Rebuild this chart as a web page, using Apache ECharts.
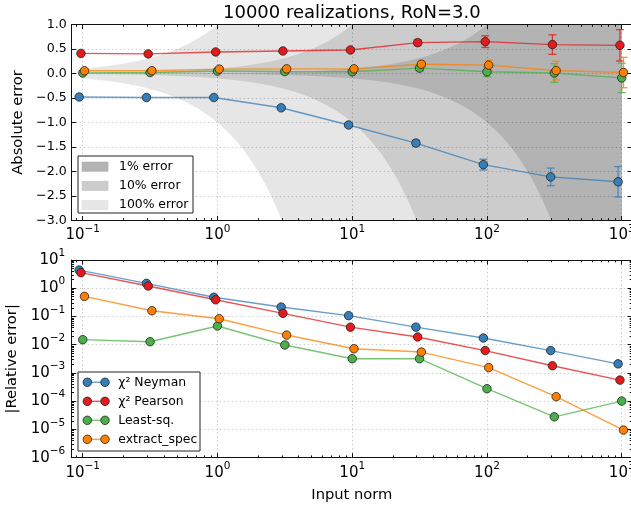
<!DOCTYPE html>
<html>
<head>
<meta charset="utf-8">
<script src="https://cdn.jsdelivr.net/npm/echarts@6/dist/echarts.min.js"></script>
<style>
  html, body { margin: 0; padding: 0; background: #fff; }
  #chart { width: 631px; height: 509px; }
</style>
</head>
<body>
<div id="chart"></div>
<script>
// ---- data -----------------------------------------------------------------
// Input norms at which each fitting method was evaluated (methods are staggered
// slightly along x so the markers do not hide each other).
const xNeyman  = [0.094, 0.297, 0.94, 2.97, 9.4, 29.7, 94, 297, 940];
const xPearson = [0.097, 0.306, 0.97, 3.06, 9.7, 30.6, 97, 306, 970];
const xLsq     = [0.1, 0.316, 1.0, 3.16, 10, 31.6, 100, 316, 1000];
const xExtract = [0.103, 0.326, 1.03, 3.26, 10.3, 32.6, 103, 326, 1030];

// Mean absolute error of the recovered norm
const absNeyman  = [-0.48, -0.49, -0.49, -0.70, -1.05, -1.42, -1.86, -2.11, -2.21];
const absPearson = [0.41, 0.40, 0.44, 0.46, 0.48, 0.63, 0.65, 0.59, 0.575];
const absLsq     = [0.01, 0.02, 0.05, 0.04, 0.035, 0.11, 0.035, 0.01, -0.09];
const absExtract = [0.055, 0.057, 0.09, 0.095, 0.095, 0.19, 0.17, 0.06, 0.02];

// Uncertainty of the mean absolute error
const errNeyman  = [0.02, 0.02, 0.025, 0.03, 0.035, 0.06, 0.11, 0.18, 0.31];
const errPearson = [0.02, 0.02, 0.025, 0.03, 0.035, 0.06, 0.12, 0.20, 0.32];
const errLsq     = [0.02, 0.02, 0.025, 0.03, 0.035, 0.06, 0.10, 0.19, 0.30];
const errExtract = [0.02, 0.02, 0.025, 0.03, 0.035, 0.06, 0.10, 0.19, 0.31];

// |Relative error| of the recovered norm
const relNeyman  = [4.4, 1.49, 0.48, 0.216, 0.107, 0.042, 0.0173, 0.0062, 0.0021];
const relPearson = [3.56, 1.2, 0.39, 0.129, 0.042, 0.0188, 0.0062, 0.0018, 0.00056];
const relLsq     = [0.0151, 0.0128, 0.046, 0.0098, 0.0032, 0.0032, 0.000277, 0.000028, 0.000101];
const relExtract = [0.516, 0.16, 0.0835, 0.022, 0.0072, 0.0055, 0.00155, 0.000145, 0.0000095];

const methodNames  = ['χ² Neyman', 'χ² Pearson', 'Least-sq.', 'extract_spec'];
const methodColors = ['#377eb8', '#e41a1c', '#4daf4a', '#ff7f00'];

// Shaded regions: |absolute error| below a given percentage of the input norm
const bandPercents = [100, 10, 1];
const bandLabels   = ['100% error', '10% error', '1% error'];
const bandColors   = ['#e6e6e6', '#cccccc', '#b3b3b3'];
const bandNormRange = [0.1, 1000];

// Axis ranges and tick labels
const xRange = [0.0828, 1192];
const xMajorTicks = [0.1, 1, 10, 100, 1000];
const yAbsRange = [-3, 1];
const yAbsStep = 0.5;
const yRelRange = [1e-6, 10];
const yRelMajorTicks = [1e-6, 1e-5, 1e-4, 1e-3, 1e-2, 1e-1, 1, 10];

const titleText = '10000 realizations, RoN=3.0';

// ---- helpers --------------------------------------------------------------
const FONT = 'DejaVu Sans';
const zip = (xs, ys) => xs.map((x, i) => [x, ys[i]]);
const zip3 = (xs, ys, es) => xs.map((x, i) => [x, ys[i], es[i]]);

function minorLogTicks(lo, hi) {
  const out = [];
  for (let e = -8; e <= 4; e++) {
    for (let k = 2; k <= 9; k++) {
      const v = +(k * Math.pow(10, e)).toPrecision(6);
      if (v > lo && v < hi) out.push(v);
    }
  }
  return out;
}
const xMinorTicks = minorLogTicks(xRange[0], xRange[1]);
const yRelMinorTicks = minorLogTicks(yRelRange[0], yRelRange[1]);

function powLabel(v) {
  const e = Math.round(Math.log10(v));
  return '{b|10}{s|' + String(e).replace('-', '\u2212') + '}';
}
const powRich = {
  b: { fontFamily: FONT, fontSize: 15, lineHeight: 15, color: '#000', verticalAlign: 'bottom' },
  s: { fontFamily: FONT, fontSize: 10.5, lineHeight: 10.5, color: '#000', verticalAlign: 'bottom', padding: [0, 0, 8.5, 0] }
};

const gridLine = { show: true, lineStyle: { color: 'rgba(0,0,0,0.2)', width: 1, type: [1.5, 2.5] } };
const spine = { show: true, onZero: false, lineStyle: { color: '#111', width: 1 } };
const noLine = { show: false, onZero: false };
const MAJOR = 4.5, MINOR = 2.3;

function tickStyle(len, values) {
  const t = { show: true, inside: true, length: len, lineStyle: { color: '#111', width: 1 } };
  if (values) t.customValues = values;
  return t;
}

// log x axes for a grid: main (labels + grid), minor ticks, top spine major, top minor
function xAxesFor(gridIndex, withName) {
  const base = { type: 'log', logBase: 10, gridIndex, min: xRange[0], max: xRange[1], z: 2 };
  return [
    Object.assign({}, base, {
      position: 'bottom', axisLine: spine, axisTick: tickStyle(MAJOR, xMajorTicks),
      axisLabel: { customValues: xMajorTicks, formatter: powLabel, rich: powRich, margin: 7.5 },
      splitLine: gridLine,
      name: withName ? 'Input norm' : '', nameLocation: 'middle', nameGap: 30,
      nameTextStyle: { fontFamily: FONT, fontSize: 14.7, color: '#000' }
    }),
    Object.assign({}, base, {
      position: 'bottom', axisLine: noLine, axisTick: tickStyle(MINOR, xMinorTicks),
      axisLabel: { show: false }, splitLine: { show: false }
    }),
    Object.assign({}, base, {
      position: 'top', axisLine: spine, axisTick: tickStyle(MAJOR, xMajorTicks),
      axisLabel: { show: false }, splitLine: { show: false }
    }),
    Object.assign({}, base, {
      position: 'top', axisLine: noLine, axisTick: tickStyle(MINOR, xMinorTicks),
      axisLabel: { show: false }, splitLine: { show: false }
    })
  ];
}

const xAxes = xAxesFor(0, false).concat(xAxesFor(1, true));

const yAxes = [
  // top panel, linear
  {
    type: 'value', gridIndex: 0, position: 'left', min: yAbsRange[0], max: yAbsRange[1], interval: yAbsStep, z: 2,
    axisLine: spine, axisTick: tickStyle(MAJOR),
    axisLabel: { fontFamily: FONT, fontSize: 12.6, color: '#000', margin: 5,
      formatter: v => v.toFixed(1).replace('-', '\u2212') },
    splitLine: gridLine,
    name: 'Absolute error', nameLocation: 'middle', nameGap: 41,
    nameTextStyle: { fontFamily: FONT, fontSize: 14.7, color: '#000' }
  },
  {
    type: 'value', gridIndex: 0, position: 'right', min: yAbsRange[0], max: yAbsRange[1], interval: yAbsStep, z: 2,
    axisLine: spine, axisTick: tickStyle(MAJOR), axisLabel: { show: false }, splitLine: { show: false }
  },
  // bottom panel, log
  {
    type: 'log', logBase: 10, gridIndex: 1, position: 'left', min: yRelRange[0], max: yRelRange[1], z: 2,
    axisLine: spine, axisTick: tickStyle(MAJOR, yRelMajorTicks),
    axisLabel: { customValues: yRelMajorTicks, formatter: powLabel, rich: powRich, margin: 6.5 },
    splitLine: gridLine,
    name: '|Relative error|', nameLocation: 'middle', nameGap: 46,
    nameTextStyle: { fontFamily: FONT, fontSize: 14.7, color: '#000' }
  },
  {
    type: 'log', logBase: 10, gridIndex: 1, position: 'left', min: yRelRange[0], max: yRelRange[1], z: 2,
    axisLine: noLine, axisTick: tickStyle(MINOR, yRelMinorTicks), axisLabel: { show: false }, splitLine: { show: false }
  },
  {
    type: 'log', logBase: 10, gridIndex: 1, position: 'right', min: yRelRange[0], max: yRelRange[1], z: 2,
    axisLine: spine, axisTick: tickStyle(MAJOR, yRelMajorTicks), axisLabel: { show: false }, splitLine: { show: false }
  },
  {
    type: 'log', logBase: 10, gridIndex: 1, position: 'right', min: yRelRange[0], max: yRelRange[1], z: 2,
    axisLine: noLine, axisTick: tickStyle(MINOR, yRelMinorTicks), axisLabel: { show: false }, splitLine: { show: false }
  }
];

// ---- series ---------------------------------------------------------------
function renderBand(params, api) {
  const frac = api.value(0) / 100;
  const lo = Math.log10(bandNormRange[0]), hi = Math.log10(bandNormRange[1]);
  const n = 500, upper = [], lower = [];
  for (let i = 0; i <= n; i++) {
    const x = Math.pow(10, lo + (hi - lo) * i / n);
    upper.push(api.coord([x, Math.min(frac * x, yAbsRange[1])]));
    lower.push(api.coord([x, Math.max(-frac * x, yAbsRange[0])]));
  }
  return {
    type: 'polygon',
    shape: { points: upper.concat(lower.reverse()) },
    style: { fill: api.visual('color') }
  };
}

function renderErrorBar(params, api) {
  const x = api.value(0), y = api.value(1), e = api.value(2);
  const a = api.coord([x, y + e]), b = api.coord([x, y - e]);
  const cap = 4;
  const style = { stroke: api.visual('color'), lineWidth: 1.3, opacity: 0.8 };
  return {
    type: 'group',
    children: [
      { type: 'line', shape: { x1: a[0], y1: a[1], x2: b[0], y2: b[1] }, style },
      { type: 'line', shape: { x1: a[0] - cap, y1: a[1], x2: a[0] + cap, y2: a[1] }, style },
      { type: 'line', shape: { x1: b[0] - cap, y1: b[1], x2: b[0] + cap, y2: b[1] }, style }
    ]
  };
}

const xs = [xNeyman, xPearson, xLsq, xExtract];
const absVals = [absNeyman, absPearson, absLsq, absExtract];
const errVals = [errNeyman, errPearson, errLsq, errExtract];
const relVals = [relNeyman, relPearson, relLsq, relExtract];

function lineSeries(name, color, data, xIdx, yIdx) {
  return {
    name, type: 'line', xAxisIndex: xIdx, yAxisIndex: yIdx, data, z: 4,
    symbol: 'circle', symbolSize: 8.5, showAllSymbol: true,
    lineStyle: { color, width: 1.4, opacity: 0.75 },
    itemStyle: { color, borderColor: '#222', borderWidth: 0.8 },
    emphasis: { disabled: true }, animation: false
  };
}

const series = [
  {
    type: 'custom', name: 'bands', xAxisIndex: 0, yAxisIndex: 0, z: 1, silent: true,
    renderItem: renderBand, animation: false,
    data: bandPercents.map((p, i) => ({ value: [p, 0], itemStyle: { color: bandColors[i] } }))
  }
];
methodNames.forEach((name, i) => {
  series.push({
    type: 'custom', name: name + ' err', xAxisIndex: 0, yAxisIndex: 0, z: 3, silent: true,
    renderItem: renderErrorBar, animation: false, itemStyle: { color: methodColors[i] },
    data: zip3(xs[i], absVals[i], errVals[i])
  });
  series.push(lineSeries(name, methodColors[i], zip(xs[i], absVals[i]), 0, 0));
  series.push(lineSeries(name, methodColors[i], zip(xs[i], relVals[i]), 4, 2));
});

// ---- legends (drawn as graphics) -------------------------------------------
const graphics = [];
const textStyle = { fontFamily: FONT, fontSize: 12.4, fill: '#000', verticalAlign: 'middle' };

// band legend, darkest first
graphics.push({ type: 'rect', shape: { x: 78, y: 156, width: 115, height: 57 },
  style: { fill: '#fff', stroke: '#222', lineWidth: 1 }, z: 10 });
[2, 1, 0].forEach((bi, row) => {
  const cy = 166.7 + row * 19.2;
  graphics.push({ type: 'rect', shape: { x: 81.7, y: cy - 5, width: 26.7, height: 10 },
    style: { fill: bandColors[bi] }, z: 11 });
  graphics.push({ type: 'text', x: 119, y: cy, style: Object.assign({ text: bandLabels[bi] }, textStyle), z: 11 });
});

// method legend
graphics.push({ type: 'rect', shape: { x: 78, y: 372, width: 122, height: 79 },
  style: { fill: '#fff', stroke: '#222', lineWidth: 1 }, z: 10 });
methodNames.forEach((name, i) => {
  const cy = 382.3 + i * 19;
  const c = methodColors[i];
  graphics.push({ type: 'line', shape: { x1: 87.3, y1: cy, x2: 105, y2: cy },
    style: { stroke: c, lineWidth: 1.4, opacity: 0.75 }, z: 11 });
  [87.3, 105].forEach(cx => graphics.push({ type: 'circle', shape: { cx, cy, r: 4.25 },
    style: { fill: c, stroke: '#222', lineWidth: 0.8 }, z: 12 }));
  graphics.push({ type: 'text', x: 118.3, y: cy, style: Object.assign({ text: name }, textStyle), z: 11 });
});

// ---- chart ----------------------------------------------------------------
const chart = echarts.init(document.getElementById('chart'), null, { renderer: 'canvas' });
chart.setOption({
  animation: false,
  backgroundColor: '#fff',
  title: {
    text: titleText, left: 351.85, top: 4, textAlign: 'center', padding: 0,
    textStyle: { fontFamily: FONT, fontSize: 18, fontWeight: 'normal', color: '#000', lineHeight: 18 }
  },
  grid: [
    { left: 71.7, top: 24.5, width: 560.3, height: 196, outerBoundsMode: 'none' },
    { left: 71.7, top: 260, width: 560.3, height: 197.7, outerBoundsMode: 'none' }
  ],
  xAxis: xAxes,
  yAxis: yAxes,
  series,
  graphic: graphics
});
</script>
</body>
</html>
